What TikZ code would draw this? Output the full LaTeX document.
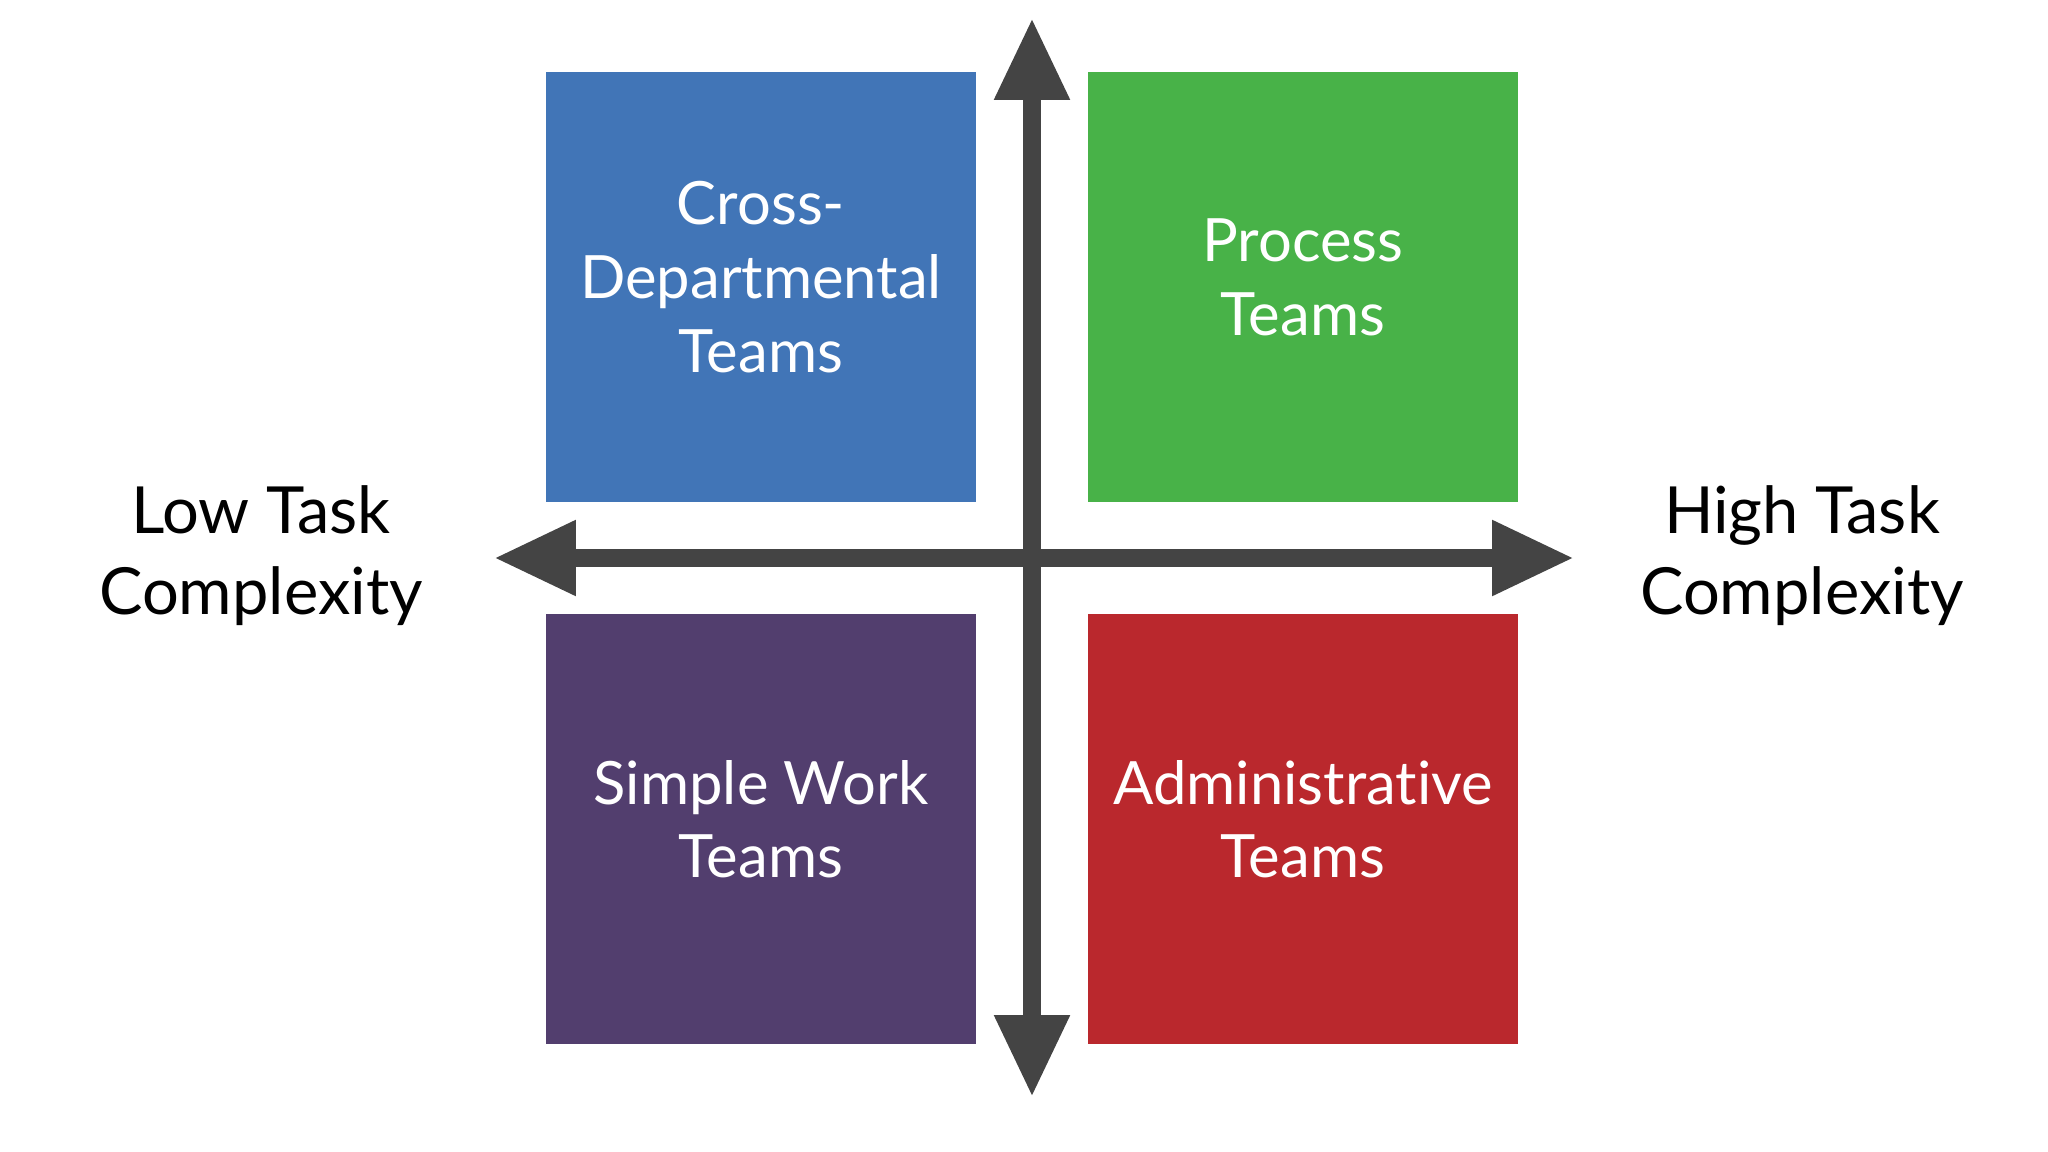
\documentclass[tikz,border=0pt]{standalone}
\usepackage{fontspec}
\setmainfont[Ligatures={NoCommon,NoRequired,NoContextual}]{Lato}
\usetikzlibrary{arrows.meta}
\definecolor{quadblue}{RGB}{65,117,183}
\definecolor{quadgreen}{RGB}{72,178,72}
\definecolor{quadpurple}{RGB}{82,62,110}
\definecolor{quadred}{RGB}{186,40,45}
\definecolor{axisgray}{RGB}{68,68,68}
\begin{document}
\begin{tikzpicture}[x=0.02cm,y=-0.02cm,
  quad/.style={rectangle, minimum width=8.6cm, minimum height=8.6cm, inner sep=0pt,
    text=white, align=center, text depth=0.4cm, font=\fontsize{34}{42}\selectfont},
  axislabel/.style={align=center, text=black, font=\fontsize{37}{46}\selectfont},
  axisline/.style={draw=axisgray, line width=0.36cm,
    {Triangle[length=1.64cm,width=1.42cm]}-{Triangle[length=1.64cm,width=1.42cm]}}]
\useasboundingbox (0,0) rectangle (2048,1152);
\node[quad, fill=quadblue] (cross) at (761,287) {Cross-\\Departmental\\Teams};
\node[quad, fill=quadgreen] (process) at (1303,287) {Process\\Teams};
\node[quad, fill=quadpurple] (simple) at (761,829) {Simple Work\\Teams};
\node[quad, fill=quadred] (admin) at (1303,829) {Administrative\\Teams};
\coordinate (top) at (1032,18);
\coordinate (bottom) at (1032,1097);
\coordinate (left) at (494,558);
\coordinate (right) at (1574,558);
\draw[axisline] (left) -- (right);
\draw[axisline] (bottom) -- (top);
\node[axislabel] (low) at (261,556) {Low Task\\Complexity};
\node[axislabel] (high) at (1802,556) {High Task\\Complexity};
\end{tikzpicture}
\end{document}
